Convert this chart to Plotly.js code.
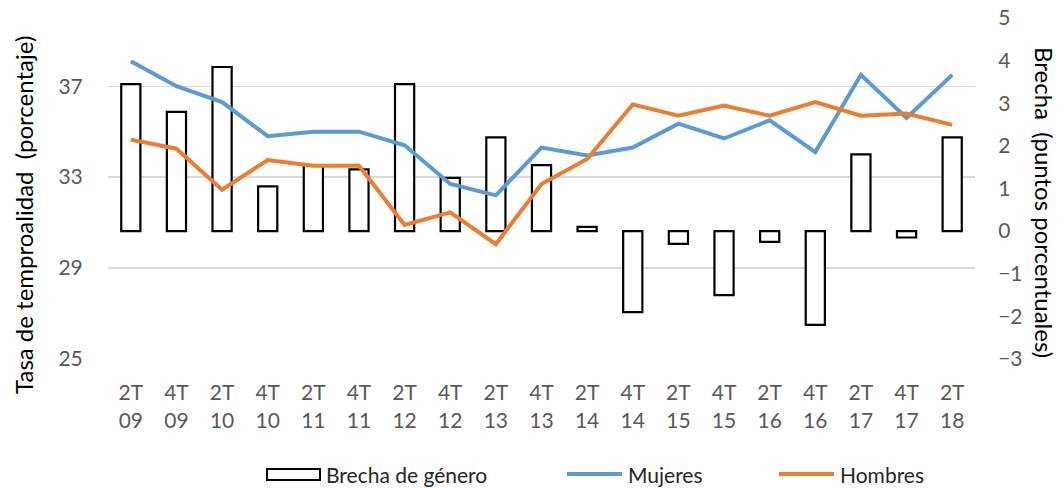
<!DOCTYPE html>
<html>
<head>
<meta charset="utf-8">
<script src="https://cdn.plot.ly/plotly-3.0.1.min.js"></script>
<style>html,body{margin:0;padding:0;background:#fff;}#chart{width:1064px;height:490px;}</style>
</head>
<body>
<div id="chart"></div>
<script>
const categories = ["2T<br>09","4T<br>09","2T<br>10","4T<br>10","2T<br>11","4T<br>11","2T<br>12","4T<br>12","2T<br>13","4T<br>13","2T<br>14","4T<br>14","2T<br>15","4T<br>15","2T<br>16","4T<br>16","2T<br>17","4T<br>17","2T<br>18"];
const mujeres = [38.1,37.0,36.3,34.8,35.0,35.0,34.4,32.7,32.2,34.3,33.95,34.3,35.35,34.7,35.5,34.1,37.5,35.6,37.5];
const hombres = [34.65,34.25,32.45,33.75,33.5,33.5,30.9,31.45,30.05,32.7,33.8,36.2,35.7,36.15,35.7,36.3,35.7,35.8,35.3];
const brecha = [3.45,2.8,3.85,1.05,1.55,1.45,3.45,1.25,2.2,1.55,0.1,-1.9,-0.3,-1.5,-0.25,-2.2,1.8,-0.15,2.2];
const leftTicks = [25,29,33,37];
const seriesNames = ["Brecha de género","Mujeres","Hombres"];
const seriesColors = ["#000000","#5B9BD5","#ED7D31"];

const FONT = "Lato, 'Open Sans', sans-serif";
const GRAY = "#595959";
const FS = 21;

const traces = [
  {type:"bar", name:seriesNames[0], x:categories, y:brecha, yaxis:"y", showlegend:false,
   width:0.42, marker:{color:"#ffffff", line:{color:seriesColors[0], width:2.2}}},
  {type:"scatter", mode:"lines", name:seriesNames[1], x:categories, y:mujeres, yaxis:"y2", showlegend:false,
   line:{color:seriesColors[1], width:4}},
  {type:"scatter", mode:"lines", name:seriesNames[2], x:categories, y:hombres, yaxis:"y2", showlegend:false,
   line:{color:seriesColors[2], width:4}}
];

// custom legend (paper coordinates)
const legY = -0.337;
const shapes = [
  {type:"rect", xref:"paper", yref:"paper", x0:0.1834, x1:0.2445, y0:-0.3545, y1:-0.3225,
   line:{color:"#000000", width:2}, fillcolor:"#ffffff"},
  {type:"line", xref:"paper", yref:"paper", x0:0.5294, x1:0.5928, y0:legY, y1:legY,
   line:{color:seriesColors[1], width:4}},
  {type:"line", xref:"paper", yref:"paper", x0:0.7739, x1:0.8374, y0:legY, y1:legY,
   line:{color:seriesColors[2], width:4}}
];
const legendText = [0.2503, 0.5986, 0.8431].map((x,i)=>({
  text:seriesNames[i], xref:"paper", yref:"paper", x:x, y:legY-0.003, xanchor:"left", yanchor:"middle",
  showarrow:false, borderpad:0, font:{family:FONT, size:21, color:"#262626"}
}));

const layout = {
  width:1064, height:490,
  margin:{l:108, r:89, t:18, b:131},
  paper_bgcolor:"#ffffff", plot_bgcolor:"#ffffff",
  font:{family:FONT, size:FS, color:GRAY},
  showlegend:false,
  xaxis:{type:"category", showgrid:false, zeroline:false, showline:false,
         ticks:"outside", ticklen:15, tickcolor:"rgba(0,0,0,0)",
         tickangle:0, tickfont:{family:FONT, size:FS, color:GRAY}, fixedrange:true},
  yaxis:{side:"right", range:[-3,5], dtick:1, showgrid:false, zeroline:false, showline:false,
         ticks:"outside", ticklen:18, tickcolor:"rgba(0,0,0,0)",
         tickfont:{family:FONT, size:FS, color:GRAY}},
  yaxis2:{overlaying:"y", side:"left", range:[25,40], tickvals:leftTicks, showgrid:true,
          gridcolor:"#d9d9d9", gridwidth:1.3, zeroline:false, showline:false,
          ticks:"outside", ticklen:20, tickcolor:"rgba(0,0,0,0)",
          tickfont:{family:FONT, size:FS, color:GRAY}},
  shapes:shapes,
  annotations:[
    {text:"Tasa de temproalidad \u00a0(porcentaje)", xref:"paper", yref:"paper", x:-0.0969, y:0.4223,
     xanchor:"center", yanchor:"middle", textangle:-90, showarrow:false,
     font:{family:FONT, size:24, color:"#000000"}},
    {text:"Brecha \u00a0(puntos porcentuales)", xref:"paper", yref:"paper", x:1.0795, y:0.4575,
     xanchor:"center", yanchor:"middle", textangle:90, showarrow:false,
     font:{family:FONT, size:24, color:"#000000"}}
  ].concat(legendText)
};

Plotly.newPlot("chart", traces, layout, {displayModeBar:false, staticPlot:true});
</script>
</body>
</html>
